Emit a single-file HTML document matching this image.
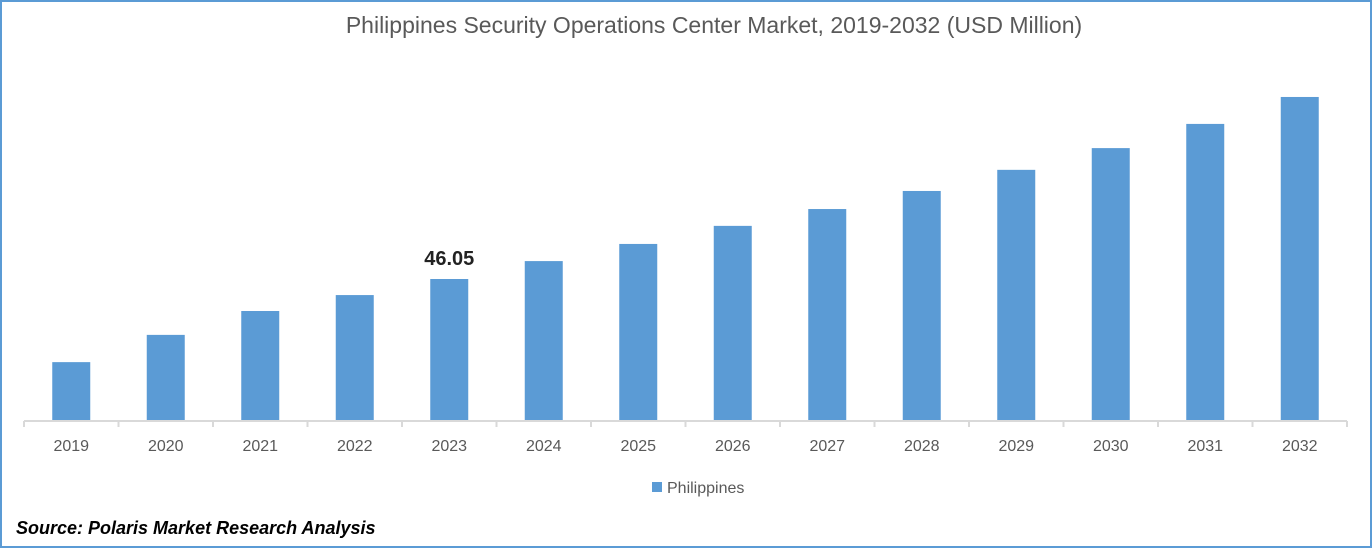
<!DOCTYPE html>
<html><head><meta charset="utf-8"><style>
body{margin:0;background:#fff}
#wrap{position:relative;width:1372px;height:548px;box-sizing:border-box;border:2px solid #5b9bd5;font-family:"Liberation Sans",sans-serif;overflow:hidden}
</style></head><body>
<div id="wrap">
<svg id="chart" width="1368" height="544"></svg>
</div>
<script>
const categories=["2019","2020","2021","2022","2023","2024","2025","2026","2027","2028","2029","2030","2031","2032"];
const values=[18.9,27.8,35.6,40.8,46.05,51.9,57.5,63.4,68.9,74.8,81.7,88.8,96.7,105.5];
const labelIndex=[4];
const labelTexts=["46.05"];
const NS="http://www.w3.org/2000/svg";
const svg=document.getElementById('chart');
const ox=-2,oy=-2;
const x0=24,x1=1347,base=420,pxPer=141/46.05,bw=38;
const band=(x1-x0)/categories.length;
const xc=i=>x0+band*(i+0.5)+ox;
const y=v=>base-v*pxPer+oy;
function mk(t,a){const e=document.createElementNS(NS,t);for(const k in a)e.setAttribute(k,a[k]);svg.appendChild(e);return e;}
let t=mk('text',{x:714+ox,y:33+oy,'text-anchor':'middle','font-size':23,fill:'#595959'});


t.textContent="Philippines Security Operations Center Market, 2019-2032 (USD Million)";
categories.forEach((c,i)=>{
  const r=mk('rect',{x:xc(i)-bw/2,y:y(values[i]),width:bw,height:values[i]*pxPer,fill:'#5b9bd5'});
  
  
  const l=mk('text',{x:xc(i),y:451+oy,'text-anchor':'middle','font-size':16,fill:'#595959'});
  
  
  l.textContent=c;
});
const ax=mk('line',{x1:x0+ox,x2:x1+ox,y1:421+oy,y2:421+oy,stroke:'#d9d9d9','stroke-width':2});


for(let i=0;i<=categories.length;i++){
  const tk=mk('line',{x1:x0+band*i+ox,x2:x0+band*i+ox,y1:421+oy,y2:427+oy,stroke:'#d9d9d9','stroke-width':2});
  
  
}
labelIndex.forEach((idx,k)=>{
  const d=mk('text',{x:xc(idx),y:y(values[idx])-14,'text-anchor':'middle','font-size':20,'font-weight':'bold',fill:'#222'});
  
  
  d.textContent=labelTexts[k];
});
const lg=mk('rect',{x:652+ox,y:482+oy,width:10,height:10,fill:'#5b9bd5'});


const lt=mk('text',{x:667+ox,y:493+oy,'font-size':16,fill:'#595959'});


lt.textContent="Philippines";
const s=mk('text',{x:16+ox,y:534+oy,'font-size':18,'font-weight':'bold','font-style':'italic',fill:'#000'});


s.textContent="Source: Polaris Market Research Analysis";
</script>
</body></html>
